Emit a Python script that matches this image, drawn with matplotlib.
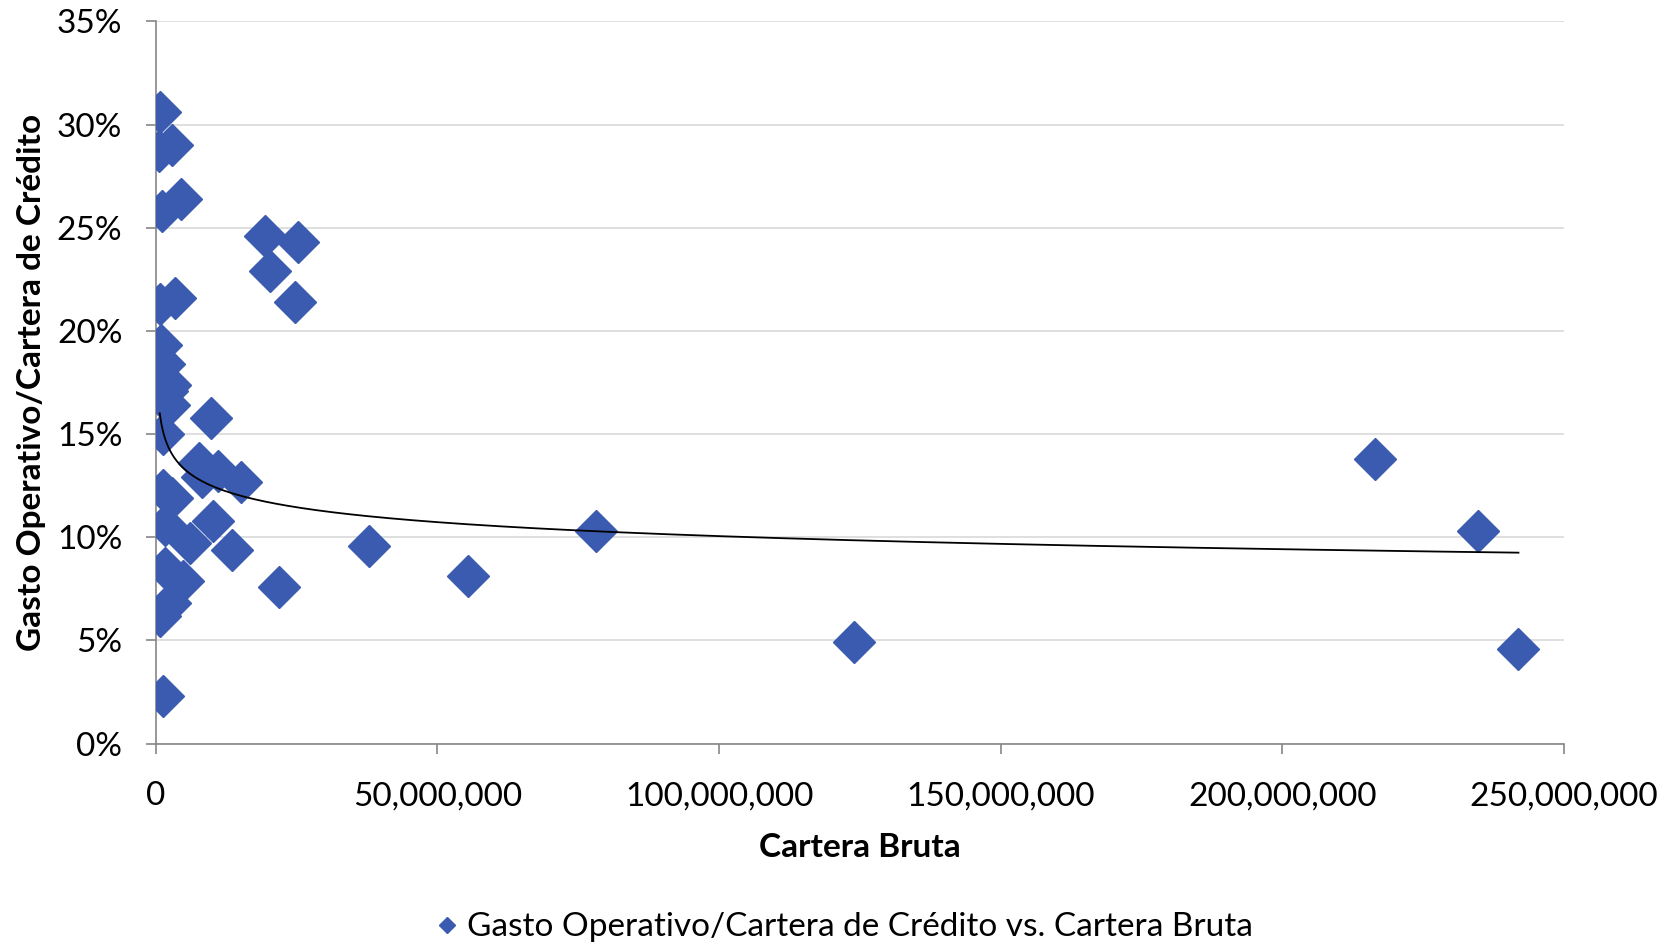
import numpy as np
import matplotlib.pyplot as plt
from matplotlib.ticker import FuncFormatter, MultipleLocator

# Cartera Bruta (millions) and Gasto Operativo/Cartera de Credito (%)
cartera_m = [0.7, 0.5, 2.9, 1.1, 4.5, 19.4, 25.3, 20.2, 24.7, 0.8, 3.4,
             0.9, 1.5, 2.5, 2.0, 2.4, 9.8, 1.35, 7.6, 11.1, 15.1, 8.2,
             1.35, 2.8, 1.65, 10.2, 6.1, 13.5, 1.65, 4.9, 2.5, 0.8, 21.8,
             1.35, 37.8, 55.5, 78.2, 124.0, 216.5, 234.8, 241.9]
gasto_pct = [30.6, 28.7, 29.0, 25.8, 26.4, 24.6, 24.3, 22.9, 21.4, 21.3, 21.6,
             19.3, 18.4, 17.4, 17.1, 16.4, 15.8, 15.0, 13.6, 13.2, 12.7, 12.9,
             12.3, 11.9, 10.6, 10.8, 9.7, 9.4, 8.5, 7.9, 6.8, 6.2, 7.6,
             2.3, 9.6, 8.1, 10.3, 4.9, 13.8, 10.3, 4.6]

# power trend line y = c * x^k
trend_c = 0.568
trend_k = -0.094

x = np.array(cartera_m) * 1e6
y = np.array(gasto_pct) / 100

xt = np.linspace(0.71e6, x.max(), 800)
yt = trend_c * xt ** trend_k

plt.rcParams['font.family'] = ['Lato', 'DejaVu Sans']
fig = plt.figure(figsize=(16.8, 9.51), dpi=100)
ax = fig.add_axes([0.0927, 0.2181, 0.8383, 0.7594])

blue = '#3A5BAF'
ax.plot(x, y, 'D', color=blue, ms=21, mec=blue, zorder=3,
        label='Gasto Operativo/Cartera de Crédito vs. Cartera Bruta')
ax.plot(xt, yt, color='black', lw=1.3, zorder=4)

ax.set_xlim(0, 250e6)
ax.set_ylim(0, 0.35)
ax.xaxis.set_major_locator(MultipleLocator(50e6))
ax.yaxis.set_major_locator(MultipleLocator(0.05))
ax.xaxis.set_major_formatter(FuncFormatter(lambda v, p: f'{v:,.0f}'))
ax.yaxis.set_major_formatter(FuncFormatter(lambda v, p: f'{v * 100:.0f}%'))

ax.grid(axis='y', color='#D9D9D9', lw=1.2)
ax.set_axisbelow(True)
for s in ['top', 'right']:
    ax.spines[s].set_visible(False)
for s in ['left', 'bottom']:
    ax.spines[s].set_color('#868686')
    ax.spines[s].set_linewidth(1.2)
ax.tick_params(axis='both', colors='#868686', length=7, width=1.2,
               labelsize=24, labelcolor='black')
ax.tick_params(axis='x', pad=20)
ax.tick_params(axis='y', pad=17)

ax.set_xlabel('Cartera Bruta', fontsize=24, fontweight='bold', labelpad=16)
ax.set_ylabel('Gasto Operativo/Cartera de Crédito', fontsize=24,
              fontweight='bold', labelpad=8)

fig.legend(loc='center', bbox_to_anchor=(0.5, 0.025), frameon=False,
           fontsize=24, markerscale=0.38, handletextpad=0.0, handlelength=1.2)

fig.savefig('out.png', dpi=100)
